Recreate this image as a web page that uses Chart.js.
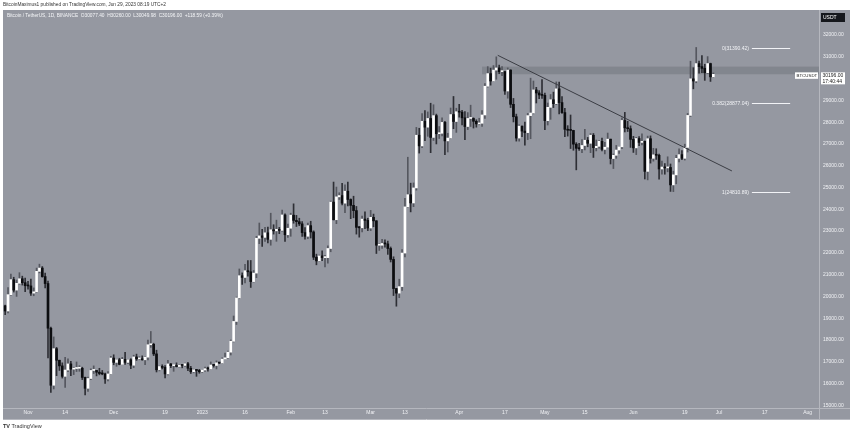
<!DOCTYPE html>
<html>
<head>
<meta charset="utf-8">
<script src="https://cdn.jsdelivr.net/npm/chart.js@4.4.0/dist/chart.umd.min.js"></script>
<style>
html, body { margin: 0; padding: 0; background: #fff; }
#wrap { position: relative; width: 850px; height: 434px; overflow: hidden; font-family: "Liberation Sans", Arial, sans-serif; }
#c { position: absolute; left: 0; top: 0; }
.txt { position: absolute; white-space: nowrap; line-height: 1; }
</style>
</head>
<body>
<div id="wrap">
  <canvas id="c" width="850" height="434"></canvas>
  <div class="txt" style="left:3px;top:2.5px;font-size:4.8px;color:#333">BitcoinMaximus1 published on TradingView.com, Jun 29, 2023 08:19 UTC+2</div>
  <div class="txt" style="left:7px;top:14px;font-size:4.8px;color:#f5f6f8">Bitcoin / TetherUS, 1D, BINANCE &nbsp;O30077.40 &nbsp;H30260.00 &nbsp;L30049.98 &nbsp;C30196.00 &nbsp;+118.59 (+0.39%)</div>
  <div class="txt" style="left:3px;top:424px;font-size:5.5px;color:#333"><b>TV</b> TradingView</div>
</div>
<script>
// daily candles, BTC/USDT, 24 Oct 2022 .. 29 Jun 2023 (day 0 = 1 Nov 2022)
var firstDay = -8;

var opens = [
  19570,19330,20080,20770,20290,20600,20810,20630,
  20490,20480,20150,20210,21150,21300,20910,20590,18540,15920,17600,17070,16810,16330,16620,16900,16660,16690,16700,16700,16280,15780,16230,16600,16600,16520,16460,16440,16210,16440,
  17170,16970,17090,16880,17110,16970,17090,16840,17220,17130,17130,17090,17210,17780,17800,17360,16630,16780,16740,16440,16900,16820,16820,16780,16840,16830,16910,16700,16540,16630,16600,
  16540,16620,16680,16670,16850,16830,16950,16940,17120,17180,17440,17940,18850,19930,20950,20870,21180,21130,20680,21070,22670,22780,22710,22920,22620,23060,23010,23080,23030,23740,22830,
  23130,23730,23490,23430,23330,22930,22760,23250,22960,21800,21630,21860,21780,21780,22200,24330,23520,24570,24630,24280,24830,24450,24180,23940,23170,23150,23550,23490,
  23140,23630,23470,22350,22350,22430,22410,22200,21700,20360,20150,20450,21990,24110,24670,24290,24980,27400,26910,28040,27770,28170,27300,28300,27470,27490,27990,27140,27270,28350,28030,
  28480,28460,28200,27800,28170,28170,28040,27920,27950,28330,29650,30230,29890,30390,30490,30320,30320,29430,30390,28820,28250,27270,27820,27590,27520,28300,28420,29480,29340,29250,
  29230,28070,28680,29030,28850,29530,28900,28440,27670,27630,27620,26990,26800,26780,26930,27170,27030,27400,26830,26890,27120,26750,26850,27220,26330,26480,26720,26870,28080,27740,27700,
  27210,26820,27250,27070,27120,25740,27240,26340,26500,26480,25850,25940,25900,25920,25120,25580,26340,26510,26340,26840,28310,29990,29890,30690,30550,30470,30270,30690,30077
];
var highs = [
  19600,20410,21020,20880,20750,21090,20930,20840,
  20690,20800,20390,21300,21480,21370,21070,20700,18590,18140,17660,17070,16950,17200,17130,17020,16750,16990,16820,16750,16290,16300,16680,16810,16600,16700,16600,16480,16550,17250,
  17320,17110,17160,17200,17430,17110,17140,17300,17350,17230,17270,17240,18000,18390,17850,17530,16800,16860,16820,17060,16920,16870,16950,16860,16860,16940,16970,16790,16660,16640,16650,
  16630,16760,16760,16990,16880,17040,16960,17180,17400,17490,18000,19100,19970,21260,21080,21470,21650,21650,21190,22760,23370,23080,23170,23180,23820,23290,23500,23170,23960,23790,23320,
  23820,24250,23720,23590,23440,23160,23370,23450,23010,21940,21900,22090,21890,22320,24380,25250,25020,24760,25190,25120,25250,24480,24600,24130,23210,23690,23880,23590,
  23950,23780,23480,22420,22620,22600,22540,22270,21820,20370,20790,22150,24500,26390,25200,25210,27760,27720,28390,28530,28470,28870,28800,28370,27800,28200,28040,27490,28650,29180,28640,
  28820,28540,28490,28440,28780,28200,28110,28180,28530,29770,30550,30480,30600,31000,30620,30550,30330,30490,30410,29090,28370,27880,27820,28000,28400,30020,29890,29600,29450,29960,
  29330,28880,29270,29380,29850,29840,29180,28640,27840,28330,27630,27060,27030,27200,27670,27300,27480,27480,27180,27150,27270,27070,27500,27220,26540,26930,26890,28200,28450,28040,27830,
  27350,27300,27340,27460,27140,27360,27370,26800,26780,26530,26210,26100,26410,26080,25750,26480,26770,26690,26990,28400,30800,30500,31430,30810,31060,30660,31010,30710,30260
];
var lows = [
  19160,19240,20060,20200,20000,20560,20520,20220,
  20330,20050,20030,20180,21080,20880,20390,17170,15590,15750,16360,16600,16250,15820,16540,16360,16410,16550,16560,16180,15480,15640,16180,16460,16350,16400,16400,16000,16120,16420,
  16860,16790,16860,16870,16880,16910,16680,16730,17060,17090,17070,16870,17080,17660,17280,16530,16580,16670,16260,16400,16730,16560,16760,16760,16720,16790,16590,16460,16490,16330,16470,
  16500,16550,16570,16660,16750,16670,16910,16910,17100,17140,17310,17910,18710,19890,20550,20620,20930,20410,20660,20860,22420,22290,22520,22460,22350,22860,22530,22880,23000,22520,22710,
  22760,23360,23210,23250,22750,22630,22650,22680,21690,21450,21600,21640,21350,21530,22050,23510,23340,24450,24200,23840,24150,23570,23610,22860,22720,22960,23110,23020,
  23020,23200,21970,22110,22200,22260,21930,21580,20040,19550,19940,20270,21810,24080,23880,24120,24880,26580,26830,27150,27350,26600,27160,27000,27250,27370,26510,26630,27240,27700,27530,
  28230,27870,27200,27660,27800,27730,27770,27880,27810,28170,29610,29700,29870,29970,30230,30140,29270,29100,28670,28010,27130,27130,27330,26940,27200,27240,28380,28880,29080,29090,
  27660,27870,28130,28670,28810,28380,28400,27330,27360,26790,26710,25810,26700,26600,26720,26870,26600,26380,26680,26810,26680,26540,26820,26080,25870,26340,26560,26780,27550,27570,26840,
  26610,26510,26920,26960,25390,25350,26120,26210,26290,25380,25610,25610,25720,24820,24810,25170,26170,26280,26260,26630,28260,29530,29810,30250,30270,29920,30230,29870,30050
];
var closes = [
  19330,20080,20770,20290,20600,20810,20630,20490,
  20480,20150,20210,21150,21300,20910,20590,18540,15920,17600,17070,16810,16330,16620,16900,16660,16690,16700,16700,16280,15780,16230,16600,16600,16520,16460,16440,16210,16440,17170,
  16970,17090,16880,17110,16970,17090,16840,17220,17130,17130,17090,17210,17780,17800,17360,16630,16780,16740,16440,16900,16820,16820,16780,16840,16830,16910,16700,16540,16630,16600,16540,
  16620,16680,16670,16850,16830,16950,16940,17120,17180,17440,17940,18850,19930,20950,20870,21180,21130,20680,21070,22670,22780,22710,22920,22620,23060,23010,23080,23030,23740,22830,23130,
  23730,23490,23430,23330,22930,22760,23250,22960,21800,21630,21860,21780,21780,22200,24330,23520,24570,24630,24280,24830,24450,24180,23940,23170,23150,23550,23490,23140,
  23630,23470,22350,22350,22430,22410,22200,21700,20360,20150,20450,21990,24110,24670,24290,24980,27400,26910,28040,27770,28170,27300,28300,27470,27490,27990,27140,27270,28350,28030,28480,
  28460,28200,27800,28170,28170,28040,27920,27950,28330,29650,30230,29890,30390,30490,30320,30320,29430,30390,28820,28250,27270,27820,27590,27520,28300,28420,29480,29340,29250,29230,
  28070,28680,29030,28850,29530,28900,28440,27670,27630,27620,26990,26800,26780,26930,27170,27030,27400,26830,26890,27120,26750,26850,27220,26330,26480,26720,26870,28080,27740,27700,27210,
  26820,27250,27070,27120,25740,27240,26340,26500,26480,25850,25940,25900,25920,25120,25580,26340,26510,26340,26840,28310,29990,29890,30690,30550,30470,30270,30690,30080,30196
];

// time axis labels (day offsets from 1 Nov 2022)
var tickDays = [0, 13, 30, 48, 61, 76, 92, 104, 120, 132, 151, 167, 181, 195, 212, 230, 242, 258, 273];
var tickLabels = ['Nov','14','Dec','19','2023','16','Feb','13','Mar','13','Apr','17','May','15','Jun','19','Jul','17','Aug'];
var priceTicks = [15000,16000,17000,18000,19000,20000,21000,22000,23000,24000,25000,26000,27000,28000,29000,30000,31000,32000];

// drawings on the chart
var zoneLow = 30200, zoneHigh = 30550, zoneStart = 159;
var trendFrom = [164.5, 31070], trendTo = [246.5, 25760];
var fibLevels = [
  { label: '0(31390.42)', price: 31390.42 },
  { label: '0.382(28877.04)', price: 28877.04 },
  { label: '1(24810.89)', price: 24810.89 }
];
var fibStart = 253.5, fibEnd = 266.9;
var lastPrice = 30196.00;

var bg = '#9598a1';
var lineCol = '#b5b7be';
var font5 = '5px "Liberation Sans", Arial, sans-serif';

var bodies = [], wicks = [], bodyCols = [], wickCols = [];
for (var i = 0; i < closes.length; i++) {
  var d = firstDay + i;
  var up = closes[i] >= opens[i];
  bodies.push({ x: d, y: [opens[i], closes[i]] });
  wicks.push({ x: d, y: [lows[i], highs[i]] });
  bodyCols.push(up ? '#ffffff' : '#0c0d10');
  wickCols.push(up ? '#55575f' : '#2e2f35');
}

var overlay = {
  id: 'overlay',
  beforeDraw: function (chart) {
    var c = chart.ctx;
    c.save();
    c.fillStyle = bg;
    c.fillRect(3, 10, 847, 409);
    c.restore();
  },
  beforeDatasetsDraw: function (chart) {
    var c = chart.ctx, x = chart.scales.x, y = chart.scales.y, a = chart.chartArea;
    c.save();
    c.fillStyle = 'rgba(112,115,124,0.5)';
    var y1 = y.getPixelForValue(zoneHigh), y2 = y.getPixelForValue(zoneLow);
    var x0 = x.getPixelForValue(zoneStart);
    c.fillRect(x0, y1, a.right - x0, y2 - y1);
    c.restore();
  },
  afterDatasetsDraw: function (chart) {
    var c = chart.ctx, x = chart.scales.x, y = chart.scales.y;
    c.save();
    // trend line
    c.strokeStyle = '#3b3d44';
    c.lineWidth = 1;
    c.beginPath();
    c.moveTo(x.getPixelForValue(trendFrom[0]), y.getPixelForValue(trendFrom[1]));
    c.lineTo(x.getPixelForValue(trendTo[0]), y.getPixelForValue(trendTo[1]));
    c.stroke();
    // fib levels
    c.strokeStyle = '#f2f3f6';
    c.fillStyle = '#f2f3f6';
    c.font = font5;
    c.textAlign = 'right';
    c.textBaseline = 'middle';
    fibLevels.forEach(function (f) {
      var py = Math.round(y.getPixelForValue(f.price)) + 0.5;
      var x0 = x.getPixelForValue(fibStart), x1 = x.getPixelForValue(fibEnd);
      c.beginPath();
      c.moveTo(x0, py);
      c.lineTo(x1, py);
      c.stroke();
      c.fillText(f.label, x0 - 3, py);
    });
    c.restore();
  },
  afterDraw: function (chart) {
    var c = chart.ctx, y = chart.scales.y, a = chart.chartArea;
    c.save();
    c.strokeStyle = lineCol;
    c.lineWidth = 1;
    c.beginPath();
    c.moveTo(a.right + 0.5, 10); c.lineTo(a.right + 0.5, 419);
    c.moveTo(3, a.bottom + 0.5); c.lineTo(850, a.bottom + 0.5);
    c.moveTo(3, 419.5); c.lineTo(850, 419.5);
    c.stroke();
    c.font = font5;
    c.textBaseline = 'middle';
    c.textAlign = 'left';
    // currency box
    c.fillStyle = '#15171c';
    c.fillRect(a.right + 2, 13, 24, 9);
    c.fillStyle = '#ffffff';
    c.fillText('USDT', a.right + 4, 17.5);
    // last price labels
    var py = y.getPixelForValue(lastPrice);
    c.fillStyle = '#ffffff';
    c.fillRect(a.right - 24, py - 2, 23, 6.5);
    c.fillRect(a.right + 2, py - 2, 24, 12);
    c.fillStyle = '#222';
    c.font = '4.4px "Liberation Sans", Arial, sans-serif';
    c.fillText('BTCUSDT', a.right - 22.5, py + 1.3);
    c.font = font5;
    c.fillText('30196.00', a.right + 3.5, py + 1.3);
    c.fillText('17:40:44', a.right + 3.5, py + 6.8);
    c.restore();
  }
};

var ctx = document.getElementById('c').getContext('2d');
var myChart = new Chart(ctx, {
  type: 'bar',
  data: {
    datasets: [{
      label: 'Body',
      data: bodies,
      backgroundColor: bodyCols,
      barThickness: 2,
      minBarLength: 1,
      grouped: false,
      borderWidth: 0
    }, {
      label: 'Wick',
      data: wicks,
      backgroundColor: wickCols,
      barThickness: 1,
      grouped: false,
      borderWidth: 0
    }]
  },
  options: {
    responsive: false,
    animation: false,
    layout: { padding: { left: 3, top: 10, right: 0, bottom: 15 } },
    plugins: { legend: { display: false }, tooltip: { enabled: false } },
    scales: {
      x: {
        type: 'linear',
        min: -8.76,
        max: 277,
        offset: false,
        grid: { display: false, drawTicks: false },
        border: { display: false },
        afterBuildTicks: function (s) { s.ticks = tickDays.map(function (v) { return { value: v }; }); },
        afterFit: function (s) { s.height = 11; },
        ticks: {
          autoSkip: false,
          maxRotation: 0,
          padding: 2,
          color: '#f0f1f4',
          font: { size: 5, family: '"Liberation Sans", Arial, sans-serif' },
          callback: function (v) { return tickLabels[tickDays.indexOf(v)]; }
        }
      },
      y: {
        position: 'right',
        min: 14876,
        max: 33150,
        grid: { display: false, drawTicks: false },
        border: { display: false },
        afterBuildTicks: function (s) { s.ticks = priceTicks.map(function (v) { return { value: v }; }); },
        afterFit: function (s) { s.width = 31; },
        ticks: {
          autoSkip: false,
          padding: 4,
          color: '#f0f1f4',
          font: { size: 5, family: '"Liberation Sans", Arial, sans-serif' },
          callback: function (v) { return v.toFixed(2); }
        }
      }
    }
  },
  plugins: [overlay]
});
</script>
</body>
</html>
